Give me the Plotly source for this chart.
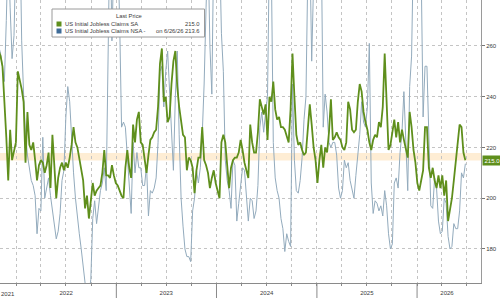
import pandas as pd
import plotly.graph_objects as go

# ---- data (weekly) ----
sa_claims = [
    258, 256, 252, 240, 224, 207, 227, 215, 219, 222,
    250, 247, 243, 238, 214, 234, 221, 219, 222, 215,
    207, 213, 215, 214, 210, 213, 218, 204, 225, 213,
    200, 208, 212, 214, 211, 214, 212, 216, 221, 228,
    222, 220, 216, 211, 207, 196, 201, 192, 199, 206,
    201, 203, 204, 205, 210, 219, 209, 209, 208, 213,
    209, 206, 205, 203, 201, 200, 212, 219, 212, 208,
    229, 222, 231, 234, 222, 221, 216, 210, 217, 223,
    224, 226, 227, 236, 253, 259, 238, 240, 230, 232,
    245, 254, 258, 244, 236, 230, 225, 224, 211, 216,
    215, 212, 202, 211, 216, 216, 228, 215, 213, 210,
    204, 208, 211, 206, 203, 200, 222, 225, 222, 212,
    204, 212, 215, 216, 216, 218, 223, 219, 214, 211,
    208, 229, 222, 218, 218, 226, 239, 236, 233, 237,
    223, 240, 238, 246, 235, 231, 232, 228, 228, 227,
    224, 222, 235, 257, 240, 225, 221, 222, 219, 217,
    218, 226, 237, 229, 220, 215, 206, 215, 221, 212,
    220, 218, 226, 239, 223, 224, 226, 224, 223, 220,
    219, 222, 238, 235, 227, 226, 227, 238, 245, 242,
    234, 230, 227, 222, 219, 223, 225, 224, 230, 228,
    236, 257, 238, 219, 221, 226, 231, 224, 230, 222,
    227, 223, 219, 216, 234, 228, 219, 214, 206, 203,
    207, 211, 228, 228, 212, 208, 212, 207, 204, 209,
    204, 209, 201, 207, 191, 196, 200, 207, 215, 224,
    229, 228, 218, 215.0,
]

nsa_claims = [
    260, 257, 252, 246, 270, 300, 275, 255, 264, 300,
    330, 310, 262, 241, 225, 217, 212, 207, 205, 201,
    186, 196, 195, 224, 200, 204, 208, 201, 195, 188,
    184, 187, 194, 207, 211, 232, 244, 238, 222, 210,
    200, 192, 186, 180, 173, 165, 160, 162, 168, 192,
    199, 190, 198, 203, 206, 212, 203, 250, 310, 262,
    300, 330, 300, 270, 228, 230, 228, 215, 205, 194,
    222, 210, 218, 212, 212, 205, 205, 213, 193, 203,
    202, 204, 208, 222, 250, 252, 236, 250, 258, 240,
    224, 211, 240, 258, 225, 200, 189, 180, 177, 177,
    175, 195, 200, 211, 206, 212, 225, 245, 275, 300,
    260, 241, 300, 330, 340, 300, 265, 250, 215, 207,
    203, 196, 215, 213, 191, 198, 206, 212, 211, 202,
    191, 200, 199, 192, 195, 205, 228, 234, 226, 234,
    240, 300, 290, 222, 208, 203, 200, 192, 188, 179,
    186, 183, 181, 245, 215, 203, 202, 207, 216, 231,
    240, 290, 300, 254, 300, 340, 350, 320, 300, 228,
    241, 234, 222, 220, 222, 222, 217, 204, 200, 203,
    215, 212, 214, 207, 204, 200, 209, 216, 225, 238,
    230, 228, 236, 261, 206, 194, 199, 198, 195, 197,
    193, 203, 197, 186, 180, 182, 206, 208, 204, 218,
    226, 242, 225, 203, 244, 256, 300, 330, 340, 320,
    290, 232, 252, 252, 225, 197, 196, 208, 204, 191,
    186, 187, 200, 198, 185, 180, 181, 190, 188, 188,
    195, 210, 208, 213.6,
]

last_date = "2026-06-26"
week_ending = pd.date_range(end=last_date, periods=len(sa_claims), freq="7D")

first_year_label = "2021"
year_labels = ["2022", "2023", "2024", "2025", "2026"]
year_label_pos = ["2022-07-02", "2023-07-02", "2024-07-02", "2025-07-02", "2026-04-20"]
year_starts = ["2022-01-01", "2023-01-01", "2024-01-01", "2025-01-01", "2026-01-01"]
y_ticks = [180, 200, 220, 240, 260]

sa_name = "US Initial Jobless Claims SA"
nsa_name = "US Initial Jobless Claims NSA -"
sa_last = "215.0"
nsa_last = "on 6/26/26 213.6"

SA_COLOR = "#5f8f1c"
NSA_COLOR = "#93abbd"
NSA_KEY = "#3f6c98"
GRID = "#c4c4c4"
TXT = "#3a3a3a"
FONT = "Liberation Sans, Arial, sans-serif"

W, H = 500, 298
ML, MR, MT, MB = 0, 19, 0, 15
PW, PH = W - ML - MR, H - MT - MB


def px(x):
    return x / PW


def py(y):
    return 1 - y / PH


fig = go.Figure()
fig.add_trace(go.Scatter(x=week_ending, y=nsa_claims, mode="lines",
                         line=dict(color=NSA_COLOR, width=1), name=nsa_name))
fig.add_trace(go.Scatter(x=week_ending, y=sa_claims, mode="lines",
                         line=dict(color=SA_COLOR, width=1.8), name=sa_name))

# last-price highlight band
fig.add_hrect(y0=214.9, y1=217.8, fillcolor="rgba(252,214,160,0.45)", line_width=0, layer="below")

shapes = []
for ys in year_starts:
    shapes.append(dict(type="line", xref="x", yref="paper", x0=ys, x1=ys, y0=0, y1=-MB / PH,
                       line=dict(color="#8a8a8a", width=1)))
# legend box
shapes.append(dict(type="rect", xref="paper", yref="paper", x0=px(52), x1=px(204.5),
                   y0=py(37), y1=py(9), fillcolor="white", line=dict(color="#9a9a9a", width=1)))
shapes.append(dict(type="rect", xref="paper", yref="paper", x0=px(56.5), x1=px(61.5),
                   y0=py(26.5), y1=py(21.5), fillcolor=SA_COLOR, line=dict(width=0)))
shapes.append(dict(type="rect", xref="paper", yref="paper", x0=px(56.5), x1=px(61.5),
                   y0=py(33.5), y1=py(28.5), fillcolor=NSA_KEY, line=dict(width=0)))

lf = dict(family=FONT, size=5.8, color=TXT)
tf = dict(family=FONT, size=6, color=TXT)
annotations = [
    dict(text="Last Price", x=px(129), y=py(16.5), xref="paper", yref="paper",
         xanchor="center", yanchor="middle", showarrow=False, font=lf),
    dict(text=sa_name, x=px(63), y=py(24), xref="paper", yref="paper",
         xanchor="left", yanchor="middle", showarrow=False, font=lf),
    dict(text=sa_last, x=px(202), y=py(24), xref="paper", yref="paper",
         xanchor="right", yanchor="middle", showarrow=False, font=lf),
    dict(text=nsa_name, x=px(63), y=py(31), xref="paper", yref="paper",
         xanchor="left", yanchor="middle", showarrow=False, font=lf),
    dict(text=nsa_last, x=px(202), y=py(31), xref="paper", yref="paper",
         xanchor="right", yanchor="middle", showarrow=False, font=lf),
    dict(text=sa_last, x=1, xref="paper", y=sa_claims[-1], yref="y", xanchor="left",
         yanchor="middle", xshift=1, showarrow=False, bgcolor=SA_COLOR, borderpad=1.5,
         font=dict(family=FONT, size=6, color="white")),
    dict(text=first_year_label, x=0, xref="paper", y=py(294), yref="paper",
         xanchor="left", yanchor="middle", xshift=-1, showarrow=False, font=tf),
]

fig.update_layout(
    width=W, height=H,
    margin=dict(l=ML, r=MR, t=MT, b=MB, pad=0),
    paper_bgcolor="white", plot_bgcolor="white",
    showlegend=False,
    shapes=shapes, annotations=annotations,
    xaxis=dict(
        type="date", range=["2021-11-03", "2026-08-22"],
        tickmode="array", tickvals=year_label_pos, ticktext=year_labels,
        ticks="outside", ticklen=4, tickcolor="rgba(0,0,0,0)",
        showgrid=False, zeroline=False,
        showline=True, linecolor="#8a8a8a", linewidth=1,
        tickfont=tf,
        minor=dict(tick0="2022-01-01", dtick="M3", showgrid=True, gridcolor=GRID,
                   griddash="dot", gridwidth=1, ticks="outside", ticklen=2,
                   tickcolor="#8a8a8a"),
    ),
    yaxis=dict(
        side="right", range=[166.6, 278.1], tickmode="array", tickvals=y_ticks,
        showgrid=True, gridcolor=GRID, griddash="dot", gridwidth=1, zeroline=False,
        ticks="outside", ticklen=3, tickcolor="#777",
        showline=True, linecolor="#9a9a9a", linewidth=1,
        tickfont=tf,
    ),
)

fig.write_html("out.html")
